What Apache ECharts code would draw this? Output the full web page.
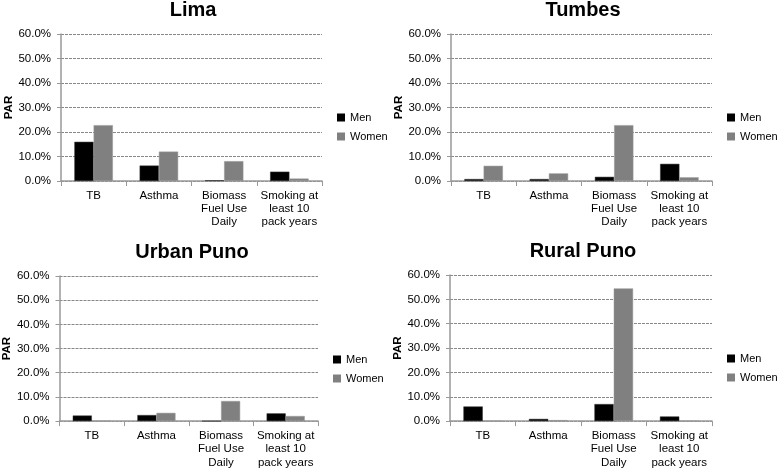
<!DOCTYPE html>
<html><head><meta charset="utf-8">
<script src="https://cdn.jsdelivr.net/npm/echarts@6/dist/echarts.min.js"></script>
<style>html,body{margin:0;padding:0;background:#fff}#c{width:778px;height:469px}</style>
</head><body><div id="c"></div>
<script>
var categories = ['TB', 'Asthma', 'Biomass\nFuel Use\nDaily', 'Smoking at\nleast 10\npack years'];
var panelTitles = ['Lima', 'Tumbes', 'Urban Puno', 'Rural Puno'];
var seriesNames = ['Men', 'Women'];
var yTicks = [0, 10, 20, 30, 40, 50, 60];
var limaMen = [16.0, 6.3, 0.3, 3.8];
var limaWomen = [22.8, 12.0, 8.1, 1.0];
var tumbesMen = [0.8, 0.8, 1.7, 7.0];
var tumbesWomen = [6.2, 3.1, 22.8, 1.5];
var urbanPunoMen = [2.3, 2.5, 0, 3.2];
var urbanPunoWomen = [0, 3.4, 8.3, 2.1];
var ruralPunoMen = [6.0, 0.9, 7.0, 1.9];
var ruralPunoWomen = [0, 0.4, 54.5, 0];

var panelData = [[limaMen, limaWomen], [tumbesMen, tumbesWomen], [urbanPunoMen, urbanPunoWomen], [ruralPunoMen, ruralPunoWomen]];
var grids = [
  {left: 61, top: 34, width: 261, height: 147, titleX: 193},
  {left: 451, top: 34, width: 261, height: 147, titleX: 583},
  {left: 57, top: 276, width: 261, height: 146, titleX: 192},
  {left: 450, top: 275, width: 262, height: 147, titleX: 583}
];
var colors = ['#000000', '#808080'];
var font = 'Liberation Sans, Arial, sans-serif';

var option = {animation: false, backgroundColor: '#fff', title: [], legend: [], grid: [], xAxis: [], yAxis: [], series: []};
grids.forEach(function (g, i) {
  option.grid.push({left: g.left, top: g.top, width: g.width, height: g.height, containLabel: false});
  option.title.push({
    text: panelTitles[i], left: g.titleX, textAlign: 'center', top: g.top - 34, padding: 0,
    textStyle: {fontFamily: font, fontSize: 20, fontWeight: 'bold', color: '#000'}
  });
  option.legend.push({
    data: seriesNames, orient: 'vertical', left: g.left + g.width + 15, top: g.top + 77, padding: 0,
    itemWidth: 8, itemHeight: 8, itemGap: 6, icon: 'rect',
    itemStyle: {borderWidth: 0},
    textStyle: {fontFamily: font, fontSize: 11, lineHeight: 13, color: '#000'}
  });
  option.xAxis.push({
    type: 'category', gridIndex: i, data: categories,
    axisLine: {lineStyle: {color: '#999', width: 1.5}},
    axisTick: {show: true, length: 5, lineStyle: {color: '#999'}},
    axisLabel: {fontFamily: font, fontSize: 11.5, color: '#000', lineHeight: 13.3, margin: 8, interval: 0}
  });
  option.yAxis.push({
    type: 'value', gridIndex: i, min: yTicks[0], max: yTicks[yTicks.length - 1], interval: 10,
    name: 'PAR', nameLocation: 'middle', nameGap: 46, nameRotate: 90,
    nameTextStyle: {fontFamily: font, fontSize: 11.5, fontWeight: 'bold', color: '#000'},
    axisLine: {show: true, lineStyle: {color: '#999', width: 1.5}},
    axisTick: {show: true, length: 4, lineStyle: {color: '#999'}},
    splitLine: {show: true, lineStyle: {color: '#888', type: [3, 1], width: 1}},
    axisLabel: {fontFamily: font, fontSize: 11.5, color: '#000', margin: 10, formatter: function (v) { return v.toFixed(1) + '%'; }}
  });
  seriesNames.forEach(function (n, k) {
    option.series.push({
      name: n, type: 'bar', xAxisIndex: i, yAxisIndex: i, data: panelData[i][k],
      barGap: '0%', barCategoryGap: '41%',
      itemStyle: {color: colors[k], borderColor: k === 0 ? '#333' : '#999', borderWidth: 0.5}
    });
  });
});
var chart = echarts.init(document.getElementById('c'));
chart.setOption(option);
</script></body></html>
